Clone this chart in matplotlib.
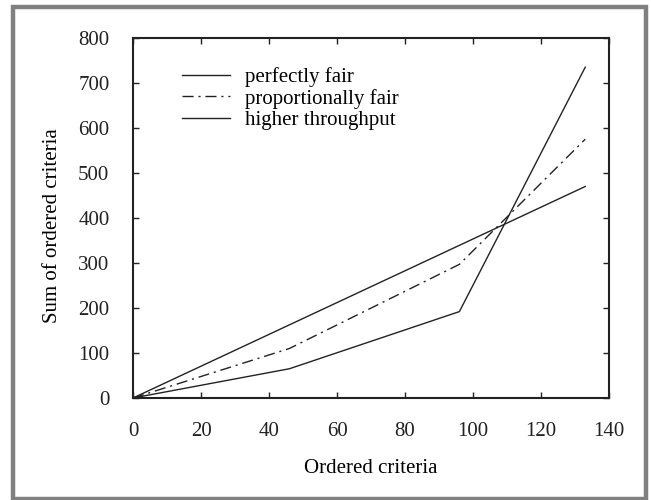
import matplotlib
matplotlib.use("Agg")
import matplotlib.pyplot as plt
from matplotlib.patches import Rectangle

# data
x_fair = [0, 133]
y_fair = [0, 470]

x_prop = [0, 46, 96, 133]
y_prop = [0, 110, 297, 575]

x_high = [0, 46, 96, 133]
y_high = [0, 65, 192, 735]

labels = ["perfectly fair", "proportionally fair", "higher throughput"]
x_ticks = [0, 20, 40, 60, 80, 100, 120, 140]
y_ticks = [0, 100, 200, 300, 400, 500, 600, 700, 800]

plt.rcParams["font.family"] = ["Liberation Serif", "DejaVu Serif"]
plt.rcParams["font.size"] = 15

fig = plt.figure(figsize=(6.51, 5.0), dpi=100)
ax = fig.add_axes([133 / 651, 102 / 500, 476 / 651, 360 / 500])

kleur = "#222222"
ax.plot(x_fair, y_fair, color=kleur, lw=1.0, label=labels[0])
ax.plot(x_prop, y_prop, color=kleur, lw=1.0, dashes=(8, 3.5, 1.5, 3.5), label=labels[1])
ax.plot(x_high, y_high, color=kleur, lw=1.0, label=labels[2])

ax.set_xlim(0, 140)
ax.set_ylim(0, 800)
ax.set_xticks(x_ticks)
ax.set_yticks(y_ticks)
ax.tick_params(direction="in", length=4, width=1, top=True, right=True, pad=17, colors="#222222")
for s in ax.spines.values():
    s.set_linewidth(1.5)
    s.set_color("#222222")

ax.set_xlabel("Ordered criteria", va="center")
ax.set_ylabel("Sum of ordered criteria", va="center")
ax.xaxis.set_label_coords(0.5, -0.196)
ax.yaxis.set_label_coords(-0.170, 0.478)

leg = ax.legend(loc="upper left", bbox_to_anchor=(0.103, 0.918), frameon=False,
                borderpad=0, borderaxespad=0,
                handlelength=2.3, handletextpad=0.72, labelspacing=0.07)

# grijze rand om de hele figuur
fig.patches.append(Rectangle((13.3 / 651, 1.5 / 500), 632.7 / 651, 491.5 / 500, transform=fig.transFigure,
                             fill=False, edgecolor="#808080", lw=3.2))

fig.savefig("out.png", dpi=100)
